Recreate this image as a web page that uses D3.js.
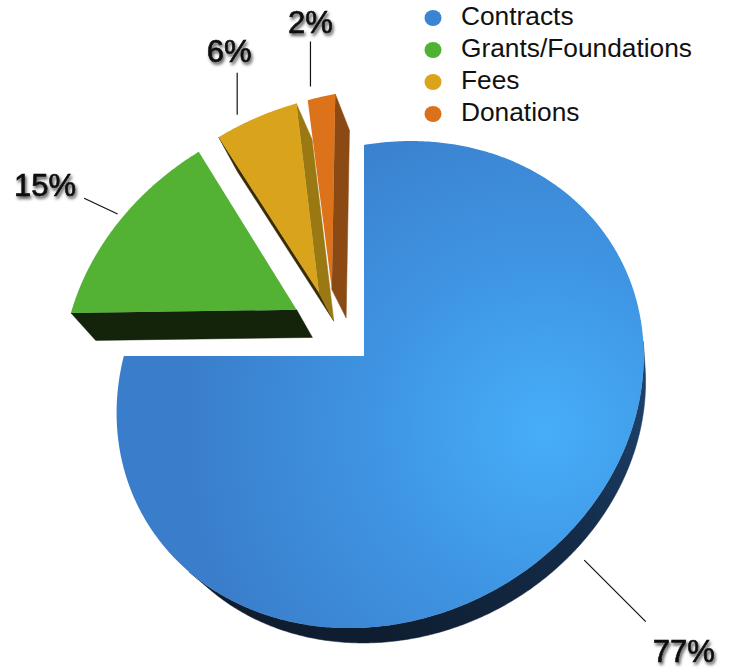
<!DOCTYPE html>
<html>
<head>
<meta charset="utf-8">
<script src="https://cdn.jsdelivr.net/npm/d3@7"></script>
<style>
  body { margin: 0; background: #fff; }
  svg { display: block; }
</style>
</head>
<body>
<svg id="chart"></svg>
<script>
// data
const categories = ["Contracts", "Grants/Foundations", "Fees", "Donations"];
const shares = [77, 15, 6, 2];
const labels = ["77%", "15%", "6%", "2%"];

const W = 730, H = 668;

// colours per slice: top face, outer rim, cut faces, legend dot
const style = {
  "Contracts":          { top: "url(#blueTop)", outer: "url(#blueRim)", cutStart: "#0e1e31", cutEnd: "#0e1e31", dot: "#3b84d4" },
  "Grants/Foundations": { top: "#53b134", outer: "#1a3410", cutStart: "#13240b", cutEnd: "#13240b", dot: "#4fb331" },
  "Fees":               { top: "#d9a41c", outer: "#6e5610", cutStart: "#3a2c05", cutEnd: "#9a7913", dot: "#dca31c" },
  "Donations":          { top: "#dc721a", outer: "#7a3f10", cutStart: "#5a2e0a", cutEnd: "#8b4a14", dot: "#dc711b" }
};

// how far each slice is pulled out (disk radius units) and in which direction (deg, clockwise from up)
const explode = {
  "Contracts":          { dist: 0,     dir: 0 },
  "Grants/Foundations": { dist: 0.36,  dir: 307.7 },
  "Fees":               { dist: 0.352, dir: 325.4 },
  "Donations":          { dist: 0.335, dir: 333.7 }
};

// leader line placement: position along slice arc, screen direction, gap, length, text offset
const leader = {
  "Contracts":          { frac: 0.5,  dir: 135,   gap: 30, len: 87, dx: 7,  dy: 40,  anchor: "start" },
  "Grants/Foundations": { frac: 0.53, dir: 295.2, gap: 6,  len: 37, dx: -8, dy: -2,  anchor: "end" },
  "Fees":               { frac: 0.25, dir: 0,     gap: 12, len: 42, dx: -8, dy: -11, anchor: "middle" },
  "Donations":          { frac: 0.1,  dir: 0,     gap: 13, len: 45, dx: 0,  dy: -9,  anchor: "middle" }
};

// perspective view of the disk
const view = {
  cx: 364, cy: 356,
  a: 260, e: 239,
  k: Math.tan(3.6 * Math.PI / 180),
  g: -0.0686, h: -0.1215,
  vx: 690, vy: 1000, depth: 0.04
};

function project(u, v, bottom) {
  const den = 1 + view.g * u + view.h * v;
  let x = view.cx + view.a * (u - view.k * v) / den;
  let y = view.cy + view.e * (v - view.k * u) / den;
  if (bottom) {
    x += view.depth * (view.vx - x);
    y += view.depth * (view.vy - y);
  }
  return [x, y];
}

function area(pts) {
  let s = 0;
  for (let i = 0; i < pts.length; i++) {
    const p = pts[i], q = pts[(i + 1) % pts.length];
    s += p[0] * q[1] - q[0] * p[1];
  }
  return s / 2;
}

const rad = d => d * Math.PI / 180;
const start = -0.01 * 2 * Math.PI;

const pie = d3.pie()
  .sort(null)
  .value(d => d.value)
  .startAngle(start)
  .endAngle(start + 2 * Math.PI);

const rows = categories.map((c, i) => ({ name: c, value: shares[i], label: labels[i] }));
const arcs = pie(rows);

const svg = d3.select("#chart").attr("width", W).attr("height", H);
const defs = svg.append("defs");

const grad = defs.append("radialGradient")
  .attr("id", "blueTop")
  .attr("gradientUnits", "userSpaceOnUse")
  .attr("cx", 545).attr("cy", 430).attr("r", 360);
grad.append("stop").attr("offset", 0).attr("stop-color", "#47aef9");
grad.append("stop").attr("offset", 0.45).attr("stop-color", "#3f96e4");
grad.append("stop").attr("offset", 1).attr("stop-color", "#3a7ecb");

const rim = defs.append("linearGradient")
  .attr("id", "blueRim")
  .attr("gradientUnits", "userSpaceOnUse")
  .attr("x1", 640).attr("y1", 400).attr("x2", 380).attr("y2", 650);
rim.append("stop").attr("offset", 0).attr("stop-color", "#1d4068");
rim.append("stop").attr("offset", 0.4).attr("stop-color", "#132b48");
rim.append("stop").attr("offset", 1).attr("stop-color", "#0e1d30");

const shadow = defs.append("filter").attr("id", "txtShadow")
  .attr("x", "-20%").attr("y", "-30%").attr("width", "150%").attr("height", "170%");
shadow.append("feDropShadow")
  .attr("dx", 1.5).attr("dy", 2.5).attr("stdDeviation", 1.4)
  .attr("flood-color", "#000").attr("flood-opacity", 0.7);

const line = d3.line();
const closed = pts => line(pts) + "Z";

function sliceGeom(d) {
  const ex = explode[d.data.name];
  const ou = ex.dist * Math.sin(rad(ex.dir));
  const ov = -ex.dist * Math.cos(rad(ex.dir));
  const n = Math.max(2, Math.ceil((d.endAngle - d.startAngle) / rad(0.5)));
  const angles = d3.range(n + 1).map(i => d.startAngle + (d.endAngle - d.startAngle) * i / n);
  const pt = (t, r, b) => project(ou + r * Math.sin(t), ov - r * Math.cos(t), b);
  return {
    ou, ov, pt,
    topArc: angles.map(t => pt(t, 1, false)),
    botArc: angles.map(t => pt(t, 1, true)),
    apexT: project(ou, ov, false),
    apexB: project(ou, ov, true)
  };
}

// draw order: far slices first, big slice last
const order = ["Grants/Foundations", "Fees", "Donations", "Contracts"];
const pieG = svg.append("g");

order.forEach(name => {
  const d = arcs.find(a => a.data.name === name);
  const s = style[name];
  const G = sliceGeom(d);
  const top = [G.apexT, ...G.topArc];
  const sign = Math.sign(area(top));
  const g = pieG.append("g");
  const n = G.topArc.length - 1;

  const cutStart = [G.topArc[0], G.apexT, G.apexB, G.botArc[0]];
  const cutEnd = [G.apexT, G.topArc[n], G.botArc[n], G.apexB];
  [[cutStart, s.cutStart], [cutEnd, s.cutEnd]].forEach(([poly, col]) => {
    if (Math.sign(area(poly)) === sign)
      g.append("path").attr("d", closed(poly)).attr("fill", col)
        .attr("stroke", col).attr("stroke-width", 0.5);
  });

  // outer rim, merged into runs of visible segments
  let run = null;
  const flush = () => {
    if (!run) return;
    const poly = [...G.topArc.slice(run[0], run[1] + 1), ...G.botArc.slice(run[0], run[1] + 1).reverse()];
    g.append("path").attr("d", closed(poly)).attr("fill", s.outer)
      .attr("stroke", s.outer).attr("stroke-width", 0.5);
    run = null;
  };
  for (let i = 0; i < n; i++) {
    const seg = [G.topArc[i + 1], G.topArc[i], G.botArc[i], G.botArc[i + 1]];
    if (Math.sign(area(seg)) === sign) {
      if (run) run[1] = i + 1; else run = [i, i + 1];
    } else flush();
  }
  flush();

  g.append("path").attr("d", closed(top)).attr("fill", s.top);
});

// leader lines and percentage labels
const lab = svg.append("g");
arcs.forEach(d => {
  const L = leader[d.data.name];
  const G = sliceGeom(d);
  const t = d.startAngle + (d.endAngle - d.startAngle) * L.frac;
  const p = G.pt(t, 1, false);
  const ux = Math.sin(rad(L.dir)), uy = -Math.cos(rad(L.dir));
  const a = [p[0] + ux * L.gap, p[1] + uy * L.gap];
  const b = [a[0] + ux * L.len, a[1] + uy * L.len];
  lab.append("line")
    .attr("x1", a[0]).attr("y1", a[1]).attr("x2", b[0]).attr("y2", b[1])
    .attr("stroke", "#111").attr("stroke-width", 1.2);
  lab.append("text")
    .attr("x", b[0] + L.dx).attr("y", b[1] + L.dy)
    .attr("text-anchor", L.anchor)
    .attr("font-family", "'Liberation Sans', Helvetica, Arial, sans-serif")
    .attr("font-size", 31)
    .attr("fill", "#0a0a0a")
    .attr("stroke", "#0a0a0a")
    .attr("stroke-width", 0.6)
    .attr("filter", "url(#txtShadow)")
    .text(d.data.label);
});

// legend
const legend = svg.append("g").attr("transform", "translate(433,18)");
const item = legend.selectAll("g").data(categories).enter().append("g")
  .attr("transform", (d, i) => `translate(0,${i * 32})`);
item.append("ellipse").attr("rx", 8.5).attr("ry", 8).attr("fill", d => style[d].dot);
item.append("text")
  .attr("x", 28).attr("y", 7)
  .attr("font-family", "'Liberation Sans', Helvetica, Arial, sans-serif")
  .attr("font-size", 26.3)
  .attr("fill", "#111")
  .text(d => d);
</script>
</body>
</html>
